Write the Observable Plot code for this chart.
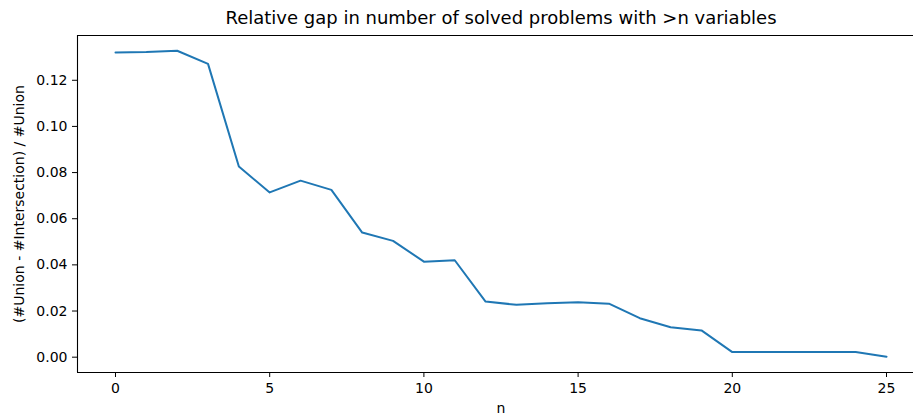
<!DOCTYPE html>
<html>
<head>
<meta charset="utf-8">
<script src="https://cdn.jsdelivr.net/npm/d3@7"></script>
<script src="https://cdn.jsdelivr.net/npm/@observablehq/plot@0.6"></script>
<style>
  html, body { margin: 0; padding: 0; background: #fff; }
  svg { display: block; }
</style>
</head>
<body>
<div id="chart"></div>
<script>
const title = "Relative gap in number of solved problems with >n variables";
const xLabel = "n";
const yLabel = "(#Union - #Intersection) / #Union";
const nValues = [0,1,2,3,4,5,6,7,8,9,10,11,12,13,14,15,16,17,18,19,20,21,22,23,24,25];
const gapValues = [0.1320,0.1322,0.1328,0.1271,0.0826,0.0714,0.0765,0.0725,0.0540,0.0504,0.0414,0.0420,0.0241,0.0227,0.0234,0.0238,0.0232,0.0169,0.0130,0.0116,0.0022,0.0022,0.0022,0.0022,0.0022,0.0002];
const xTicks = [0,5,10,15,20,25];
const yTicks = [0,0.02,0.04,0.06,0.08,0.10,0.12];

const data = nValues.map((n, i) => ({n, v: gapValues[i]}));
const xDomain = [-1.232, 25.875];
const yDomain = [-0.00664, 0.1394];

const chart = Plot.plot({
  width: 913,
  height: 417,
  marginLeft: 77,
  marginRight: 0,
  marginTop: 35,
  marginBottom: 45,
  style: {fontFamily: "DejaVu Sans", fontSize: "14px", color: "#000", background: "#fff"},
  x: {domain: xDomain},
  y: {domain: yDomain},
  marks: [
    Plot.axisX({ticks: xTicks, tickSize: 5, tickPadding: 6, tickFormat: d3.format("d"), label: null, fontSize: 14}),
    Plot.axisY({ticks: yTicks, tickSize: 5, tickPadding: 5, tickFormat: d3.format(".2f"), label: null, fontSize: 14}),
    Plot.ruleX([xDomain[0]], {stroke: "#000", strokeWidth: 1.1}),
    Plot.ruleY(yDomain, {stroke: "#000", strokeWidth: 1.1}),
    Plot.line(data, {x: "n", y: "v", stroke: "#1f77b4", strokeWidth: 2}),
    Plot.text([title], {frameAnchor: "top", lineAnchor: "middle", dy: -17.5, fontSize: 18, fill: "#000", x: () => 12.5, text: d => d}),
    Plot.text([xLabel], {frameAnchor: "bottom", lineAnchor: "middle", dy: 36.5, fontSize: 14, fill: "#000", x: () => 12.5, text: d => d}),
    Plot.text([yLabel], {frameAnchor: "left", textAnchor: "middle", lineAnchor: "middle", dx: -58, rotate: -90, fontSize: 14, fill: "#000", text: d => d})
  ]
});
document.getElementById("chart").appendChild(chart);
</script>
</body>
</html>
